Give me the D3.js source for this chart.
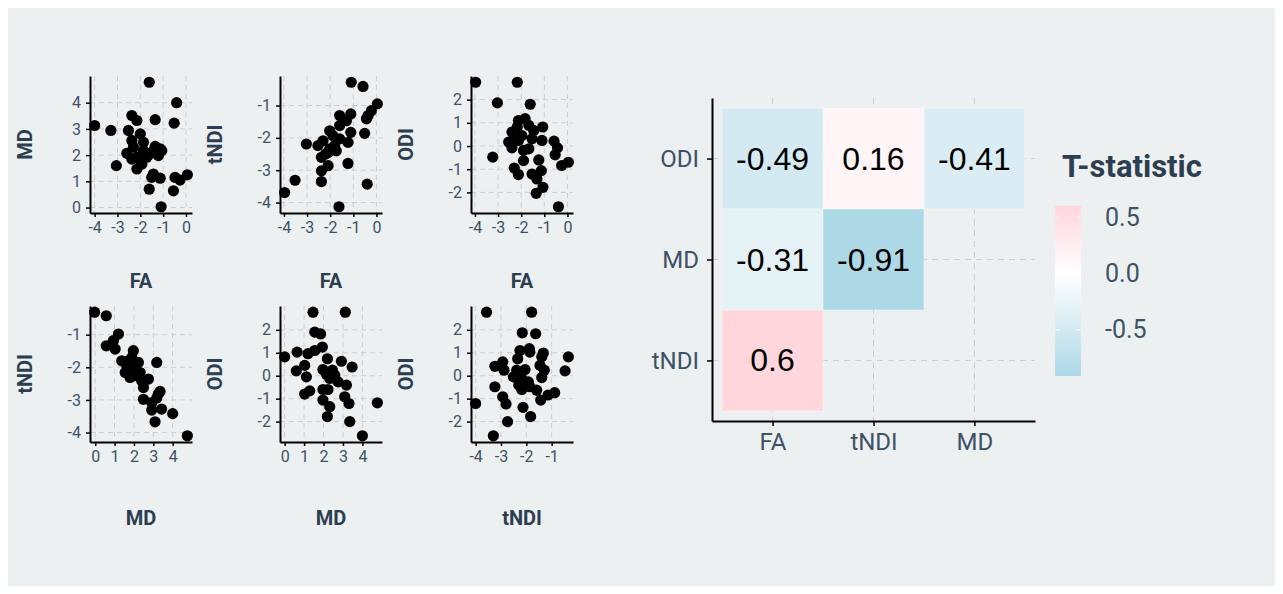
<!DOCTYPE html>
<html lang="en">
<head>
<meta charset="UTF-8">
<title>Scatter matrix and T-statistic heatmap</title>
<script src="https://cdn.jsdelivr.net/npm/d3@7"></script>
<style>
  body { margin: 0; background: #fff; }
  text { font-family: Roboto, "DejaVu Sans", sans-serif; }
</style>
</head>
<body>
<script>
// scatter panels: [x, y] pairs
let faMd = [[-1.61,4.78],[-0.41,4.0],[-4.0,3.13],[-3.29,2.94],[-2.37,3.51],[-2.15,3.32],[-1.35,3.35],[-0.52,3.22],
  [-2.52,2.94],[-2.0,2.81],[-2.37,2.56],[-3.05,1.6],[-2.59,2.07],[-2.3,2.3],[-2.15,1.92],[-1.86,2.17],[-1.72,1.92],
  [-2.15,1.47],[-1.93,1.66],[-1.35,2.33],[-1.13,2.24],[-1.06,2.17],[-1.5,2.11],[-1.21,1.98],[-1.64,2.0],[-1.43,1.28],
  [-1.5,1.15],[-1.13,1.12],[-1.61,0.7],[-1.09,0.03],[-0.48,1.15],[-0.26,1.05],[0.06,1.25],[-0.55,0.64],[-2.0,1.79],
  [-2.37,1.85],[-1.86,2.49]];
let faTndi = [[-1.09,-0.28],[-0.58,-0.41],[0.04,-0.95],[-0.22,-1.16],[-0.36,-1.31],[-0.43,-1.41],[-0.51,-1.86],
  [-1.59,-1.31],[-1.11,-1.26],[-1.3,-1.47],[-1.59,-1.62],[-1.11,-1.83],[-2.02,-1.78],[-1.88,-1.93],[-1.59,-2.03],
  [-1.23,-2.14],[-3.03,-2.19],[-2.53,-2.24],[-2.31,-2.09],[-2.02,-2.34],[-1.81,-2.24],[-2.38,-2.6],[-2.09,-2.86],
  [-2.38,-3.02],[-1.23,-2.79],[-3.52,-3.31],[-2.38,-3.35],[-3.97,-3.69],[-0.4,-3.43],[-1.62,-4.13],[-2.09,-2.45],
  [-1.74,-2.4],[-2.2,-2.5]];
let faOdi = [[-3.97,2.75],[-2.17,2.75],[-3.03,1.86],[-1.61,1.8],[-3.23,-0.48],[-2.12,1.1],[-1.83,1.18],[-2.4,0.6],
  [-2.17,0.82],[-1.67,0.89],[-1.46,0.67],[-1.07,0.82],[-2.54,0.17],[-2.33,0.24],[-2.12,0.24],[-2.4,-0.08],
  [-1.53,0.31],[-1.1,0.24],[-1.9,-0.19],[-1.67,-0.12],[-1.9,-0.63],[-1.24,-0.6],[-2.3,-0.95],[-2.12,-1.23],
  [-1.53,-1.21],[-1.32,-1.42],[-1.13,-1.06],[-1.06,-1.78],[-1.35,-2.04],[-0.58,0.21],[-0.43,-0.08],[-0.53,-0.38],
  [-0.25,-0.84],[0.04,-0.7],[-0.39,-2.62],[-1.97,0.45]];
let mdTndi = [[-0.03,-0.31],[0.57,-0.42],[0.57,-1.34],[1.2,-0.98],[0.94,-1.18],[1.03,-1.44],[1.37,-1.8],[1.97,-1.49],
  [1.89,-1.7],[1.63,-1.95],[1.55,-2.16],[1.8,-2.31],[2.06,-2.05],[2.23,-1.85],[2.15,-2.26],[2.32,-2.16],[1.97,-2.11],
  [2.4,-2.41],[2.75,-2.36],[2.49,-2.62],[3.18,-1.85],[2.49,-2.98],[2.92,-3.08],[3.26,-2.82],[3.35,-2.74],[3.18,-2.94],
  [2.92,-3.31],[3.43,-3.28],[4.0,-3.42],[3.09,-3.67],[4.76,-4.1],[1.84,-2.0],[1.72,-1.8]];
let mdOdi = [[1.46,2.77],[3.12,2.77],[1.55,1.9],[1.85,1.82],[0.0,0.82],[0.64,1.03],[0.6,0.21],[1.03,0.45],[1.2,0.96],
  [1.55,1.1],[1.94,1.25],[1.12,-0.05],[2.2,0.74],[1.97,0.27],[2.15,0.06],[2.46,0.24],[2.32,-0.12],[2.92,0.63],
  [3.47,0.38],[2.75,-0.27],[3.18,-0.41],[1.97,-0.6],[2.23,-0.6],[1.29,-0.66],[1.03,-0.8],[1.97,-1.06],[3.09,-0.92],
  [3.31,-1.21],[2.32,-1.35],[2.2,-1.78],[3.35,-2.0],[4.0,-2.62],[4.77,-1.18],[2.58,0.02]];
let tndiOdi = [[-3.57,2.77],[-1.79,2.77],[-2.16,1.87],[-1.63,1.83],[-2.25,1.1],[-1.88,1.18],[-1.86,1.03],[-1.33,0.99],
  [-1.39,0.82],[-0.34,0.82],[-0.47,0.21],[-2.34,0.74],[-3.24,0.41],[-2.93,0.6],[-2.88,0.24],[-2.38,0.24],[-2.05,0.27],
  [-1.46,0.45],[-1.29,0.24],[-1.39,-0.08],[-2.51,-0.05],[-2.18,-0.12],[-1.92,-0.27],[-2.3,-0.41],[-1.86,-0.48],
  [-1.59,-0.63],[-2.18,-0.6],[-3.24,-0.48],[-1.14,-0.84],[-0.88,-0.74],[-1.43,-1.06],[-2.93,-0.92],[-2.8,-1.23],
  [-4.0,-1.21],[-2.13,-1.38],[-1.83,-1.78],[-2.74,-2.0],[-3.3,-2.62]];

let panelX = ["FA", "FA", "FA", "MD", "MD", "tNDI"];
let panelY = ["MD", "tNDI", "ODI", "tNDI", "ODI", "ODI"];
let panelData = [faMd, faTndi, faOdi, mdTndi, mdOdi, tndiOdi];
let panelXTicks = [[-4,-3,-2,-1,0],[-4,-3,-2,-1,0],[-4,-3,-2,-1,0],[0,1,2,3,4],[0,1,2,3,4],[-4,-3,-2,-1]];
let panelYTicks = [[0,1,2,3,4],[-4,-3,-2,-1],[-2,-1,0,1,2],[-4,-3,-2,-1],[-2,-1,0,1,2],[-2,-1,0,1,2]];

// heatmap
let hmCols = ["FA", "tNDI", "MD"];
let hmRows = ["tNDI", "MD", "ODI"];   // bottom to top
let hmCells = [
  { col: "FA", row: "ODI", t: -0.49 },
  { col: "tNDI", row: "ODI", t: 0.16 },
  { col: "MD", row: "ODI", t: -0.41 },
  { col: "FA", row: "MD", t: -0.31 },
  { col: "tNDI", row: "MD", t: -0.91 },
  { col: "FA", row: "tNDI", t: 0.6 }
];
let legendTicks = [0.5, 0.0, -0.5];

let W = 1283, H = 594;
let tickCol = "#3d5266", titleCol = "#2c3e50", gridCol = "#c9cdd0";

let svg = d3.select("body").append("svg")
  .attr("width", W).attr("height", H);

svg.append("rect")
  .attr("x", 8).attr("y", 8)
  .attr("width", W - 16).attr("height", H - 16)
  .attr("fill", "#ecf0f1");

function padded(vals) {
  let e = d3.extent(vals);
  let p = (e[1] - e[0]) * 0.05;
  return [e[0] - p, e[1] + p];
}

// plain hyphen minus, like the reference
let plain = d => String(d);

function styleAxis(g, size) {
  g.select(".domain").attr("stroke", "#000").attr("stroke-width", 2);
  g.selectAll(".tick line").attr("stroke", "#000").attr("stroke-width", 1.5);
  g.selectAll(".tick text")
    .attr("fill", tickCol)
    .style("font-size", size + "px")
    .style("font-family", "Roboto, sans-serif");
}

// ---- scatter grid ----
let colX = [90, 280, 471], rowTop = [76, 306], rowH = [137, 136], pw = 102;
let titleGap = [68, 76];

panelData.forEach(function(pts, i) {
  let c = i % 3, r = Math.floor(i / 3);
  let x0 = colX[c], y0 = rowTop[r], ph = rowH[r];

  let x = d3.scaleLinear().domain(padded(pts.map(d => d[0]))).range([x0, x0 + pw]);
  let y = d3.scaleLinear().domain(padded(pts.map(d => d[1]))).range([y0 + ph, y0]);

  let g = svg.append("g");

  // dashed major grid
  g.selectAll(".gx").data(panelXTicks[i]).enter().append("line")
    .attr("x1", d => x(d)).attr("x2", d => x(d))
    .attr("y1", y0).attr("y2", y0 + ph)
    .attr("stroke", gridCol).attr("stroke-dasharray", "5,4");
  g.selectAll(".gy").data(panelYTicks[i]).enter().append("line")
    .attr("x1", x0).attr("x2", x0 + pw)
    .attr("y1", d => y(d)).attr("y2", d => y(d))
    .attr("stroke", gridCol).attr("stroke-dasharray", "5,4");

  g.selectAll("circle").data(pts).enter().append("circle")
    .attr("cx", d => x(d[0]))
    .attr("cy", d => y(d[1]))
    .attr("r", 5.6)
    .attr("fill", "#000");

  g.append("g")
    .attr("transform", "translate(0," + (y0 + ph) + ")")
    .call(d3.axisBottom(x).tickValues(panelXTicks[i]).tickFormat(plain)
      .tickSize(4).tickSizeOuter(0).tickPadding(5))
    .call(a => styleAxis(a, 16));
  g.append("g")
    .attr("transform", "translate(" + x0 + ",0)")
    .call(d3.axisLeft(y).tickValues(panelYTicks[i]).tickFormat(plain)
      .tickSize(4).tickSizeOuter(0).tickPadding(5))
    .call(a => styleAxis(a, 16));

  g.append("text")
    .attr("x", x0 + pw / 2)
    .attr("y", y0 + ph + titleGap[r])
    .attr("text-anchor", "middle")
    .attr("dominant-baseline", "central")
    .attr("fill", titleCol)
    .style("font-size", "20px").style("font-weight", "bold")
    .text(panelX[i]);

  g.append("text")
    .attr("transform", "translate(" + (x0 - 65) + "," + (y0 + ph / 2) + ") rotate(-90)")
    .attr("text-anchor", "middle")
    .attr("dominant-baseline", "central")
    .attr("fill", titleCol)
    .style("font-size", "20px").style("font-weight", "bold")
    .text(panelY[i]);
});

// ---- heatmap ----
let hx0 = 712, hx1 = 1035, hy0 = 98, hy1 = 421;
let hx = d3.scaleLinear().domain([0.4, 3.6]).range([hx0, hx1]);
let hy = d3.scaleLinear().domain([0.4, 3.6]).range([hy1, hy0]);
let colPos = c => hmCols.indexOf(c) + 1;
let rowPos = r => hmRows.indexOf(r) + 1;

let tRange = d3.extent(hmCells, d => d.t);
let maxAbs = d3.max(tRange, v => Math.abs(v));
let lowHigh = d3.scaleLinear().domain([-1, 0, 1])
  .range(["lightblue", "white", "pink"])
  .interpolate(d3.interpolateLab);
let fill = t => lowHigh(t / maxAbs);

let hg = svg.append("g");
hmCols.forEach(function(c) {
  hg.append("line")
    .attr("x1", hx(colPos(c))).attr("x2", hx(colPos(c)))
    .attr("y1", hy0).attr("y2", hy1)
    .attr("stroke", gridCol).attr("stroke-dasharray", "6,5");
});
hmRows.forEach(function(r) {
  hg.append("line")
    .attr("x1", hx0).attr("x2", hx1)
    .attr("y1", hy(rowPos(r))).attr("y2", hy(rowPos(r)))
    .attr("stroke", gridCol).attr("stroke-dasharray", "6,5");
});

hg.selectAll("rect.tile").data(hmCells).enter().append("rect")
  .attr("class", "tile")
  .attr("x", d => hx(colPos(d.col) - 0.5))
  .attr("y", d => hy(rowPos(d.row) + 0.5))
  .attr("width", hx(1.5) - hx(0.5))
  .attr("height", hy(0.5) - hy(1.5))
  .attr("fill", d => fill(d.t))
  .attr("stroke", "rgba(255,255,255,0.35)")
  .attr("stroke-width", 1);

hg.selectAll("text.val").data(hmCells).enter().append("text")
  .attr("class", "val")
  .attr("x", d => hx(colPos(d.col)))
  .attr("y", d => hy(rowPos(d.row)))
  .attr("text-anchor", "middle")
  .attr("dominant-baseline", "central")
  .style("font-family", "'Liberation Sans', Arial, sans-serif")
  .style("font-size", "32px")
  .attr("fill", "#000")
  .text(d => d.t);

hg.append("g")
  .attr("transform", "translate(0," + hy1 + ")")
  .call(d3.axisBottom(hx).tickValues([1, 2, 3]).tickFormat((d, i) => hmCols[i])
    .tickSize(5).tickSizeOuter(0).tickPadding(7))
  .call(a => styleAxis(a, 24));
hg.append("g")
  .attr("transform", "translate(" + hx0 + ",0)")
  .call(d3.axisLeft(hy).tickValues([1, 2, 3]).tickFormat((d, i) => hmRows[i])
    .tickSize(5).tickSizeOuter(0).tickPadding(8))
  .call(a => styleAxis(a, 24));

// ---- legend ----
let lx = 1055, lw = 26, ly0 = 206, ly1 = 376;
let ly = d3.scaleLinear().domain(tRange).range([ly1, ly0]);

let grad = svg.append("defs").append("linearGradient")
  .attr("id", "tgrad")
  .attr("x1", 0).attr("y1", 1).attr("x2", 0).attr("y2", 0);
d3.range(0, 1.0001, 0.05).forEach(function(f) {
  let v = tRange[0] + f * (tRange[1] - tRange[0]);
  grad.append("stop").attr("offset", f).attr("stop-color", fill(v));
});

svg.append("text")
  .attr("x", 1062).attr("y", 166)
  .attr("dominant-baseline", "central")
  .attr("fill", titleCol)
  .style("font-size", "31px").style("font-weight", "bold")
  .text("T-statistic");

svg.append("rect")
  .attr("x", lx).attr("y", ly0)
  .attr("width", lw).attr("height", ly1 - ly0)
  .attr("fill", "url(#tgrad)");

legendTicks.forEach(function(v) {
  svg.append("line")
    .attr("x1", lx).attr("x2", lx + 5)
    .attr("y1", ly(v)).attr("y2", ly(v))
    .attr("stroke", "#fff");
  svg.append("line")
    .attr("x1", lx + lw - 5).attr("x2", lx + lw)
    .attr("y1", ly(v)).attr("y2", ly(v))
    .attr("stroke", "#fff");
  svg.append("text")
    .attr("x", 1105).attr("y", ly(v))
    .attr("dominant-baseline", "central")
    .attr("fill", tickCol)
    .style("font-size", "25px")
    .text(v.toFixed(1));
});
</script>
</body>
</html>
